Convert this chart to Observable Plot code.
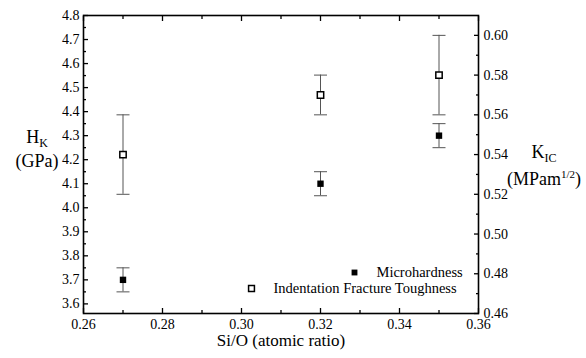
<!DOCTYPE html>
<html>
<head>
<meta charset="utf-8">
<script src="https://cdn.jsdelivr.net/npm/d3@7"></script>
<script src="https://cdn.jsdelivr.net/npm/@observablehq/plot@0.6"></script>
<style>
  html, body { margin: 0; padding: 0; background: #fff; }
  #wrap { position: relative; width: 586px; height: 358px; overflow: hidden; font-family: "Liberation Serif", "DejaVu Serif", "Noto Serif", Times, serif; color: #000; }
  .ttl { position: absolute; font-size: 18px; line-height: 18px; white-space: nowrap; text-align: center; }
  .ttl sub { font-size: 12px; vertical-align: -4px; line-height: 0; }
  .ttl sup { font-size: 11px; vertical-align: 7px; line-height: 0; }
</style>
</head>
<body>
<div id="wrap"></div>
<script>
// ---- data ----
const siO = [0.27, 0.32, 0.35];
const hardness = [3.70, 4.10, 4.30];          // H_K (GPa)
const hardnessErr = [0.05, 0.05, 0.05];
const toughness = [0.54, 0.57, 0.58];         // K_IC (MPa m^1/2)
const toughnessErr = [0.02, 0.01, 0.02];
const seriesNames = ["Microhardness", "Indentation Fracture Toughness"];

const xTicks = [0.26, 0.28, 0.30, 0.32, 0.34, 0.36];
const xMinor = [0.27, 0.29, 0.31, 0.33, 0.35];
const hkTicks = [3.6, 3.7, 3.8, 3.9, 4.0, 4.1, 4.2, 4.3, 4.4, 4.5, 4.6, 4.7, 4.8];
const hkMinor = [3.65, 3.75, 3.85, 3.95, 4.05, 4.15, 4.25, 4.35, 4.45, 4.55, 4.65, 4.75];
const kicTicks = [0.46, 0.48, 0.50, 0.52, 0.54, 0.56, 0.58, 0.60];
const kicMinor = [0.47, 0.49, 0.51, 0.53, 0.55, 0.57, 0.59];

const xDomain = [0.26, 0.36];
const hkDomain = [3.56, 4.8];
const kicDomain = [0.46, 0.61];

// map right-axis (K_IC) values onto the left (H_K) scale
const toH = d3.scaleLinear(kicDomain, hkDomain);

const hardRows = siO.map((x, i) => ({x, y: hardness[i], lo: hardness[i] - hardnessErr[i], hi: hardness[i] + hardnessErr[i]}));
const toughRows = siO.map((x, i) => ({x, y: toH(toughness[i]), lo: toH(toughness[i] - toughnessErr[i]), hi: toH(toughness[i] + toughnessErr[i])}));
const capRows = [...hardRows, ...toughRows].flatMap(d => [{x: d.x, y: d.lo}, {x: d.x, y: d.hi}]);

const capSymbol = {
  draw(context, size) {
    const w = Math.sqrt(size / Math.PI);
    context.moveTo(-w, 0);
    context.lineTo(w, 0);
  }
};

const errColor = "#555";
const fmt2 = d3.format(".2f");
const fmt1 = d3.format(".1f");
const serif = "'Liberation Serif', 'DejaVu Serif', 'Noto Serif', Times, serif";

const chart = Plot.plot({
  width: 586,
  height: 358,
  marginLeft: 83,
  marginRight: 108,
  marginTop: 15,
  marginBottom: 45,
  style: {fontFamily: serif, fontSize: "14px", background: "#fff", color: "#000"},
  x: {domain: xDomain},
  y: {domain: hkDomain},
  marks: [
    // error bars
    Plot.ruleX([...hardRows, ...toughRows], {x: "x", y1: "lo", y2: "hi", stroke: errColor, strokeWidth: 1}),
    Plot.dot(capRows, {x: "x", y: "y", symbol: capSymbol, r: 6.5, stroke: errColor, strokeWidth: 1}),
    // points
    Plot.dot(hardRows, {x: "x", y: "y", symbol: "square", r: 3.6, fill: "#000", stroke: "none"}),
    Plot.dot(toughRows, {x: "x", y: "y", symbol: "square", r: 3.6, fill: "#fff", stroke: "#000", strokeWidth: 1.5}),
    // axes: bottom
    Plot.axisX(xTicks, {anchor: "bottom", tickSize: -5, tickPadding: 11, strokeWidth: 1.3, tickFormat: fmt2, label: null, fontFamily: serif}),
    Plot.axisX(xMinor, {anchor: "bottom", tickSize: -3, strokeWidth: 1.3, fill: "none", label: null}),
    // top
    Plot.axisX(xTicks, {anchor: "top", tickSize: -5, strokeWidth: 1.3, fill: "none", label: null}),
    Plot.axisX(xMinor, {anchor: "top", tickSize: -3, strokeWidth: 1.3, fill: "none", label: null}),
    // left
    Plot.axisY(hkTicks, {anchor: "left", tickSize: -5, tickPadding: 9, strokeWidth: 1.3, tickFormat: fmt1, label: null, fontFamily: serif}),
    Plot.axisY(hkMinor, {anchor: "left", tickSize: -3, strokeWidth: 1.3, fill: "none", label: null}),
    // right (K_IC)
    Plot.axisY(kicTicks.map(toH), {anchor: "right", tickSize: -5, tickPadding: 10, strokeWidth: 1.3, tickFormat: d => fmt2(toH.invert(d)), label: null, fontFamily: serif}),
    Plot.axisY(kicMinor.map(toH), {anchor: "right", tickSize: -3, strokeWidth: 1.3, fill: "none", label: null}),
    Plot.frame({stroke: "#000", strokeWidth: 1.6}),
    // x axis title
    Plot.text(["Si/O (atomic ratio)"], {text: d => d, frameAnchor: "bottom", lineAnchor: "middle", dy: 27, fontSize: 17, fontFamily: serif}),
    // legend
    Plot.dot([seriesNames[0]], {frameAnchor: "bottom-right", dx: -124, dy: -41, symbol: "square", r: 3.3, fill: "#000", stroke: "none"}),
    Plot.text([seriesNames[0]], {text: d => d, frameAnchor: "bottom-right", dx: -102, dy: -41, textAnchor: "start", lineAnchor: "middle", fontSize: 14.5, fontFamily: serif}),
    Plot.dot([seriesNames[1]], {frameAnchor: "bottom-right", dx: -227, dy: -25, symbol: "square", r: 3.3, fill: "#fff", stroke: "#000", strokeWidth: 1.5}),
    Plot.text([seriesNames[1]], {text: d => d, frameAnchor: "bottom-right", dx: -205, dy: -25, textAnchor: "start", lineAnchor: "middle", fontSize: 14.5, fontFamily: serif})
  ]
});

const wrap = document.getElementById("wrap");
wrap.appendChild(chart);

// y-axis titles with sub/superscripts
const left1 = document.createElement("div");
left1.className = "ttl";
left1.style.cssText = "left:0px;width:74px;top:128px;";
left1.innerHTML = "H<sub>K</sub>";
const left2 = document.createElement("div");
left2.className = "ttl";
left2.style.cssText = "left:0px;width:74px;top:152px;";
left2.textContent = "(GPa)";
const right1 = document.createElement("div");
right1.className = "ttl";
right1.style.cssText = "left:505px;width:78px;top:143px;";
right1.innerHTML = "K<sub>IC</sub>";
const right2 = document.createElement("div");
right2.className = "ttl";
right2.style.cssText = "left:505px;width:78px;top:170px;";
right2.innerHTML = "(MPam<sup>1/2</sup>)";
[left1, left2, right1, right2].forEach(el => wrap.appendChild(el));
</script>
</body>
</html>
